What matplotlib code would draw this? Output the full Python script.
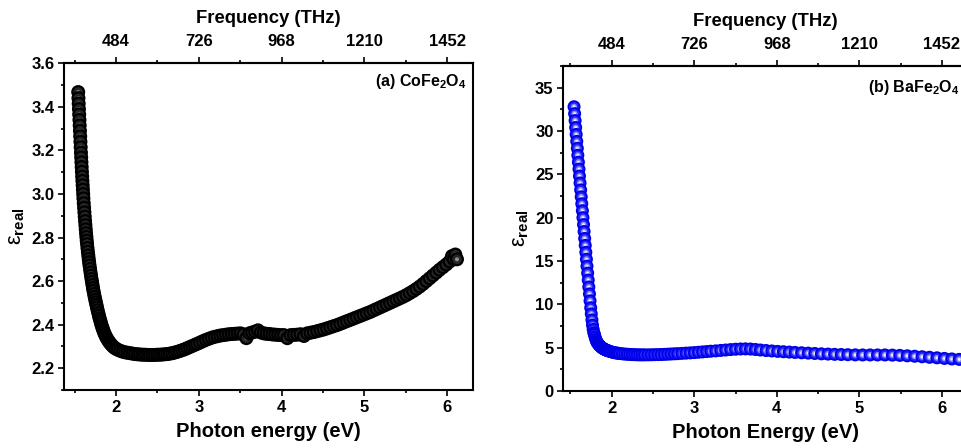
import numpy as np
import matplotlib
matplotlib.use("Agg")
import matplotlib.pyplot as plt
from matplotlib.ticker import MultipleLocator, FixedLocator

plt.rcParams['font.family'] = ['Liberation Sans', 'DejaVu Sans']
plt.rcParams['font.weight'] = 'bold'
plt.rcParams['axes.labelweight'] = 'bold'
plt.rcParams['mathtext.fontset'] = 'custom'
plt.rcParams['mathtext.rm'] = 'Liberation Sans:bold'
plt.rcParams['mathtext.bf'] = 'Liberation Sans:bold'
plt.rcParams['mathtext.it'] = 'Liberation Sans:bold:italic'

# ---------------- data ----------------
# (a) CoFe2O4 : photon energy (eV) vs real permittivity
e_co = [1.543, 1.546, 1.549, 1.552, 1.555, 1.558, 1.561, 1.564, 1.567, 1.570,
        1.573, 1.576, 1.579, 1.582, 1.585, 1.588, 1.591, 1.594, 1.597, 1.600,
        1.603, 1.606, 1.610, 1.614, 1.618, 1.622, 1.626, 1.630, 1.634, 1.638,
        1.642, 1.646, 1.650, 1.655, 1.660, 1.665, 1.670, 1.675, 1.680, 1.686,
        1.692, 1.698, 1.704, 1.710, 1.716, 1.722, 1.728, 1.735, 1.742, 1.749,
        1.756, 1.763, 1.770, 1.778, 1.786, 1.794, 1.802, 1.810, 1.818, 1.827,
        1.836, 1.845, 1.855, 1.865, 1.876, 1.887, 1.899, 1.911, 1.924, 1.937,
        1.951, 1.966, 1.981, 1.997,
        2.02, 2.05, 2.08, 2.11, 2.14, 2.17, 2.20, 2.23, 2.26, 2.29,
        2.32, 2.35, 2.38, 2.41, 2.44, 2.47, 2.50, 2.53, 2.56, 2.59,
        2.62, 2.65, 2.68, 2.71, 2.74, 2.77, 2.80, 2.83, 2.86, 2.89,
        2.92, 2.95, 2.98,
        3.015, 3.05, 3.085, 3.12, 3.155, 3.19, 3.225, 3.26, 3.295, 3.33,
        3.365, 3.40, 3.435, 3.47, 3.505, 3.54, 3.575, 3.61, 3.645, 3.68,
        3.715, 3.75, 3.785, 3.82, 3.855, 3.89, 3.925, 3.96, 3.995,
        4.03, 4.07, 4.11, 4.15, 4.19, 4.23, 4.27, 4.31, 4.35, 4.39,
        4.43, 4.47, 4.51, 4.55, 4.59, 4.63, 4.67, 4.71, 4.75, 4.79,
        4.83, 4.87, 4.91, 4.95, 4.99,
        5.03, 5.07, 5.11, 5.15, 5.19, 5.23, 5.27, 5.31, 5.35, 5.39,
        5.43, 5.47, 5.51, 5.55, 5.59, 5.63, 5.67, 5.71, 5.75, 5.79,
        5.83, 5.87, 5.91, 5.95, 5.99, 6.03, 6.06, 6.08, 6.10, 6.12]
eps_co = [3.468, 3.440, 3.415, 3.390, 3.365, 3.340, 3.315, 3.290, 3.265, 3.240,
          3.215, 3.190, 3.168, 3.146, 3.124, 3.102, 3.080, 3.060, 3.040, 3.020,
          3.000, 2.980, 2.958, 2.937, 2.916, 2.896, 2.876, 2.857, 2.838, 2.820,
          2.803, 2.786, 2.770, 2.752, 2.735, 2.718, 2.702, 2.687, 2.672, 2.656,
          2.640, 2.625, 2.610, 2.596, 2.582, 2.568, 2.555, 2.541, 2.528, 2.515,
          2.503, 2.491, 2.479, 2.466, 2.453, 2.441, 2.429, 2.418, 2.407, 2.396,
          2.385, 2.375, 2.365, 2.356, 2.347, 2.339, 2.331, 2.324, 2.317, 2.311,
          2.305, 2.299, 2.294, 2.290,
          2.285, 2.280, 2.276, 2.273, 2.271, 2.269, 2.267, 2.265, 2.264, 2.263,
          2.262, 2.262, 2.261, 2.261, 2.261, 2.261, 2.262, 2.262, 2.263, 2.264,
          2.265, 2.267, 2.269, 2.272, 2.275, 2.279, 2.283, 2.287, 2.292, 2.297,
          2.302, 2.307, 2.312,
          2.318, 2.324, 2.330, 2.335, 2.340, 2.344, 2.347, 2.350, 2.352, 2.354,
          2.356, 2.357, 2.358, 2.359, 2.360, 2.355, 2.338, 2.360, 2.364, 2.368,
          2.374, 2.364, 2.360, 2.358, 2.357, 2.355, 2.354, 2.353, 2.352,
          2.352, 2.338, 2.352, 2.353, 2.354, 2.356, 2.348, 2.360, 2.363, 2.366,
          2.370, 2.374, 2.378, 2.383, 2.388, 2.393, 2.398, 2.404, 2.410, 2.416,
          2.422, 2.428, 2.434, 2.440, 2.446,
          2.452, 2.458, 2.465, 2.472, 2.479, 2.486, 2.493, 2.500, 2.507, 2.514,
          2.521, 2.528, 2.536, 2.545, 2.554, 2.564, 2.575, 2.587, 2.600, 2.613,
          2.626, 2.639, 2.652, 2.664, 2.676, 2.690, 2.715, 2.700, 2.722, 2.700]

# (b) BaFe2O4
e_ba = [1.543, 1.550, 1.556, 1.563, 1.569, 1.576, 1.583, 1.589, 1.596, 1.603,
        1.609, 1.616, 1.623, 1.630, 1.637, 1.644, 1.651, 1.658, 1.665, 1.672,
        1.679, 1.686, 1.693, 1.700, 1.708, 1.715, 1.722, 1.730, 1.737, 1.745,
        1.752, 1.760, 1.767, 1.775, 1.783, 1.791, 1.799, 1.807, 1.815, 1.823,
        1.831, 1.840, 1.848, 1.857, 1.865, 1.874, 1.883, 1.892, 1.901, 1.910,
        1.919, 1.928, 1.938, 1.947,
        1.96, 1.98, 2.00, 2.02, 2.04, 2.06, 2.08, 2.10, 2.13, 2.16,
        2.19, 2.22, 2.25, 2.28, 2.31, 2.34, 2.37, 2.40, 2.44, 2.48,
        2.52, 2.56, 2.60, 2.64, 2.68, 2.72, 2.76, 2.80, 2.85, 2.90,
        2.95, 3.00, 3.05, 3.10, 3.15, 3.20, 3.26, 3.32, 3.38, 3.44,
        3.50, 3.56, 3.62, 3.68, 3.74, 3.80, 3.87, 3.94, 4.01, 4.08,
        4.15, 4.22, 4.30, 4.38, 4.46, 4.54, 4.62, 4.70, 4.78, 4.86,
        4.95, 5.04, 5.13, 5.22, 5.31, 5.40, 5.49, 5.58, 5.67, 5.76,
        5.85, 5.94, 6.03, 6.12, 6.21]
eps_ba = [32.8, 32.0, 31.2, 30.4, 29.6, 28.8, 28.0, 27.2, 26.4, 25.6,
          24.8, 24.0, 23.2, 22.4, 21.6, 20.8, 20.0, 19.2, 18.4, 17.6,
          16.8, 16.0, 15.2, 14.4, 13.6, 12.8, 12.0, 11.2, 10.4, 9.6,
          8.9, 8.2, 7.6, 7.1, 6.7, 6.5, 6.2, 5.95, 5.75, 5.6,
          5.5, 5.38, 5.28, 5.2, 5.12, 5.05, 4.98, 4.92, 4.87, 4.82,
          4.78, 4.74, 4.70, 4.67,
          4.62, 4.56, 4.50, 4.45, 4.41, 4.38, 4.35, 4.32, 4.29, 4.26,
          4.24, 4.22, 4.20, 4.19, 4.18, 4.17, 4.17, 4.17, 4.17, 4.18,
          4.19, 4.20, 4.21, 4.23, 4.25, 4.27, 4.29, 4.31, 4.34, 4.37,
          4.40, 4.43, 4.47, 4.51, 4.55, 4.59, 4.63, 4.68, 4.73, 4.78,
          4.82, 4.85, 4.86, 4.84, 4.79, 4.73, 4.67, 4.62, 4.57, 4.53,
          4.49, 4.45, 4.41, 4.37, 4.33, 4.29, 4.26, 4.23, 4.21, 4.19,
          4.17, 4.16, 4.16, 4.16, 4.16, 4.14, 4.11, 4.06, 4.01, 3.95,
          3.89, 3.83, 3.76, 3.70, 3.65]

freq_ticks = [484, 726, 968, 1210, 1452]
ev_per_thz = 242.0

# ---------------- figure ----------------
W, H = 962, 448
fig = plt.figure(figsize=(W / 100, H / 100), dpi=100)

ax1 = fig.add_axes([64.3 / W, 1 - 390 / H, (472.7 - 64.3) / W, (390 - 63.3) / H])
ax2 = fig.add_axes([563.3 / W, 1 - 391 / H, (967.5 - 563.3) / W, (391 - 66) / H])


def sphere_scatter(ax, x, y, colors, sizes):
    n = len(x)
    k = len(colors)
    xs = np.repeat(np.asarray(x), k)
    ys = np.repeat(np.asarray(y), k)
    cs = colors * n
    ss = sizes * n
    ax.scatter(xs, ys, s=ss, c=cs, linewidths=0, zorder=3, clip_on=True)


def d2s(d_px):
    return (d_px * 0.72) ** 2


sphere_scatter(ax1, e_co, eps_co,
               ['#000000', '#262626', '#8e8e8e'],
               [d2s(14), d2s(9.5), d2s(4)])
sphere_scatter(ax2, e_ba, eps_ba,
               ['#0000e6', '#2323ff', '#8c8cff', '#eeeeff'],
               [d2s(13), d2s(9.5), d2s(6), d2s(3)])

ax1.set_xlim(1.375, 6.31)
ax1.set_ylim(2.1, 3.6)
ax2.set_xlim(1.413, 6.31)
ax2.set_ylim(0, 37.5)

tick_fs = 12
lab_fs = 14.5
for ax, ymaj, ymin_ in [(ax1, 0.2, 0.1), (ax2, 5, 2.5)]:
    for sp in ax.spines.values():
        sp.set_linewidth(1.5)
    ax.xaxis.set_major_locator(FixedLocator([2, 3, 4, 5, 6]))
    ax.xaxis.set_minor_locator(MultipleLocator(0.5))
    ax.yaxis.set_major_locator(MultipleLocator(ymaj))
    ax.yaxis.set_minor_locator(MultipleLocator(ymin_))
    ax.tick_params(which='both', direction='out', width=1.2, labelsize=tick_fs,
                   top=False, right=False)
    ax.tick_params(which='major', length=4, pad=3)
    ax.tick_params(which='minor', length=2.2)
    for lab in ax.get_xticklabels() + ax.get_yticklabels():
        lab.set_fontweight('bold')
    sec = ax.secondary_xaxis('top', functions=(lambda e: e * ev_per_thz,
                                                 lambda f: f / ev_per_thz))
    sec.xaxis.set_major_locator(FixedLocator(freq_ticks))
    sec.xaxis.set_minor_locator(MultipleLocator(ev_per_thz / 2))
    sec.tick_params(which='both', direction='out', width=1.2, labelsize=tick_fs)
    sec.tick_params(which='major', length=4, pad=6)
    sec.tick_params(which='minor', length=2.2)
    sec.spines['top'].set_linewidth(1.5)
    for lab in sec.get_xticklabels():
        lab.set_fontweight('bold')
    sec.set_xlabel('Frequency (THz)', fontsize=13.3, fontweight='bold', labelpad=8)
    ax.set_ylabel(r'ε$_{\mathrm{real}}$', fontsize=15.5, fontweight='normal',
                  labelpad=3)

ax1.set_xlabel('Photon energy (eV)', fontsize=lab_fs, fontweight='bold', labelpad=5)
ax2.set_xlabel('Photon Energy (eV)', fontsize=lab_fs, fontweight='bold', labelpad=5)

ax1.text(0.986, 0.943, r'(a) CoFe$_2$O$_4$', transform=ax1.transAxes,
         ha='right', va='center', fontsize=11.5, fontweight='bold')
ax2.text(0.754, 0.935, r'(b) BaFe$_2$O$_4$', transform=ax2.transAxes,
         ha='left', va='center', fontsize=11.5, fontweight='bold')

fig.savefig('out.png', dpi=100)
